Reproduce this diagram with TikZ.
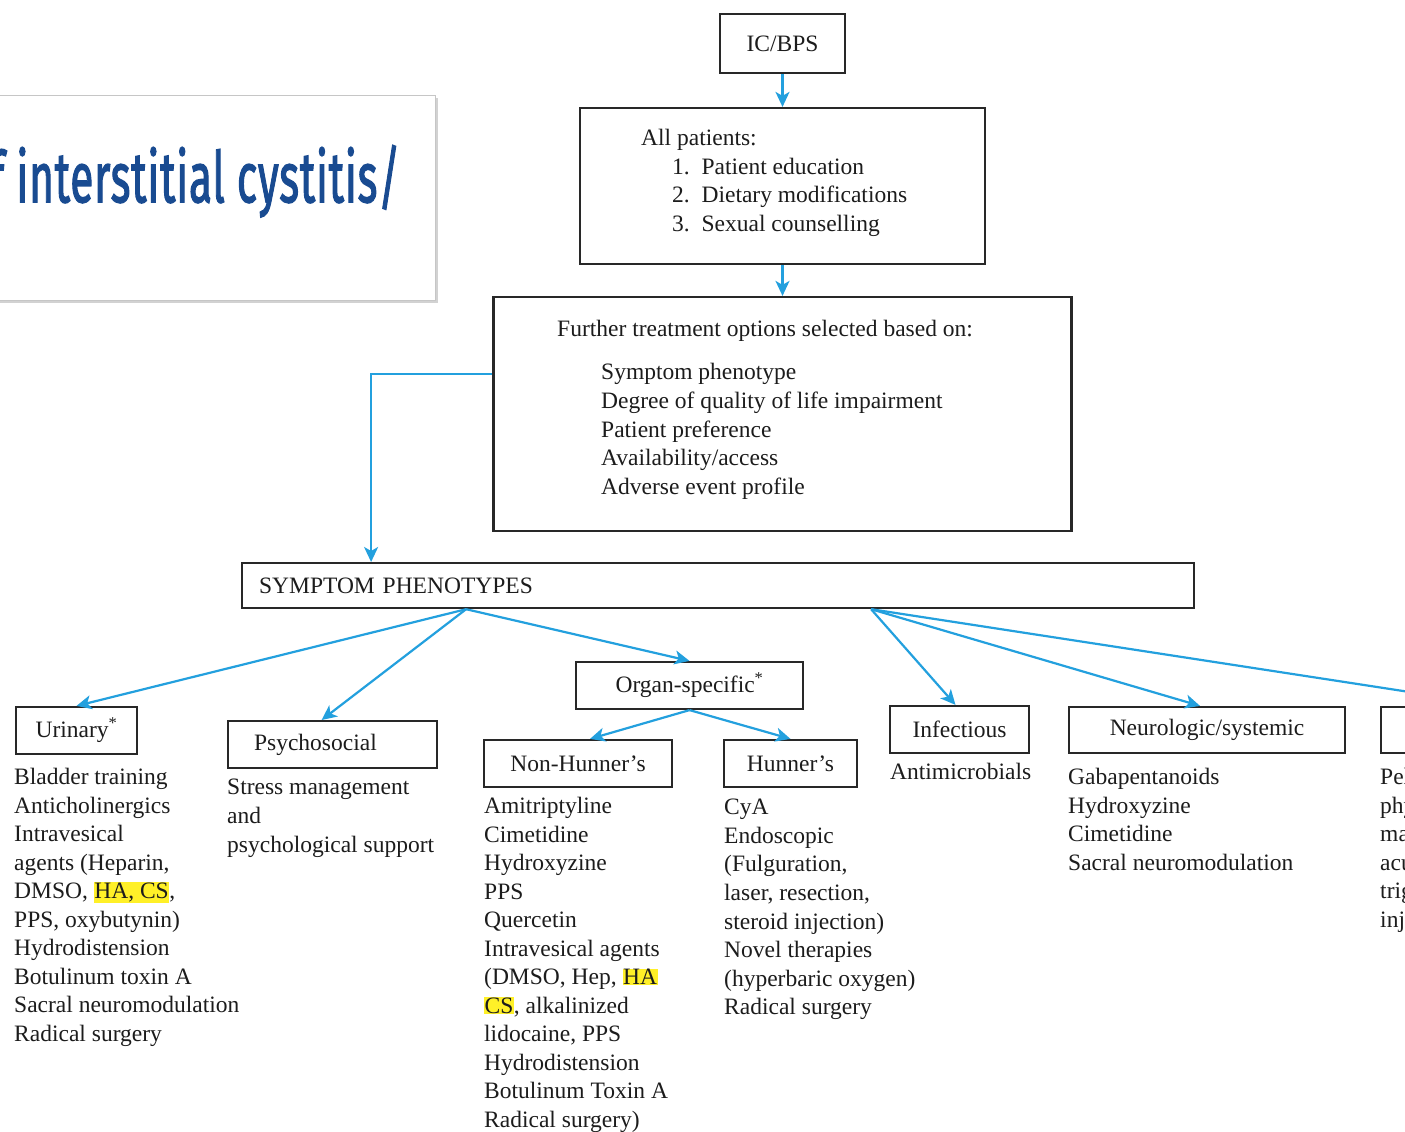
\documentclass[tikz,border=0pt]{standalone}
\usepackage{fontspec}
\setmainfont{Liberation Serif}
\newfontfamily\ttlfont[FakeBold=2.2,LetterSpace=2]{Fira Sans}
\usetikzlibrary{arrows.meta,shadows,calc}
\definecolor{txt}{RGB}{28,28,28}
\definecolor{boxc}{RGB}{40,40,40}
\definecolor{arrc}{RGB}{35,160,222}
\definecolor{ttlc}{RGB}{25,75,145}
\definecolor{hly}{RGB}{255,240,40}
\newcommand\mainfs{\fontsize{23.5}{28.5}\selectfont}
\newcommand\hlt[1]{{\setlength{\fboxsep}{0.5pt}\colorbox{hly}{#1}}}
\tikzset{
  box/.style={draw=boxc, line width=2.2pt, inner sep=0pt},
  lbl/.style={box, font=\mainfs, text=txt},
  txtn/.style={font=\mainfs, text=txt, align=left, inner sep=0pt, anchor=north west},
  arr/.style={draw=arrc, line width=2.2pt, -{Stealth[length=15pt,width=14pt,inset=4pt]}},
}
\begin{document}
\begin{tikzpicture}[x=1pt,y=-1pt]
\useasboundingbox (0,0) rectangle (1405,1132);
\fill[white] (0,0) rectangle (1405,1132);
\clip (0,0) rectangle (1405,1132);
% title box
\node[draw=gray!45, line width=1pt, fill=white, minimum width=455, minimum height=205,
  drop shadow={shadow xshift=3pt, shadow yshift=-3pt, opacity=0.35, fill=gray}] (tb) at (207.5,197.5) {};
\node[inner sep=0pt, anchor=north west, text=ttlc] (tt) at (-10,145)
  {\resizebox*{410pt}{72pt}{\ttlfont f interstitial cystitis/}};
% top chain
\node[lbl, minimum width=125, minimum height=59] (ic) at (782.5,43.5) {IC/BPS};
\node[box, minimum width=405, minimum height=156] (ap) at (782.5,186) {};
\node[txtn] (apt) at (641,129) {All patients:\\
  \hspace*{31pt}1.\enspace Patient education\\
  \hspace*{31pt}2.\enspace Dietary modifications\\
  \hspace*{31pt}3.\enspace Sexual counselling};
\node[box, minimum width=578, minimum height=234] (fu) at (782.5,414) {};
\node[txtn] (fut) at (557,320) {Further treatment options selected based on:};
\node[txtn, font=\fontsize{23.5}{28.8}\selectfont] (ful) at (601,363) {Symptom phenotype\\Degree of quality of life impairment\\Patient preference\\Availability/access\\Adverse event profile};
\draw[arr] (ic.south) -- (ap.north);
\draw[arr] (ap.south) -- (fu.north);
% symptom phenotypes
\node[lbl, minimum height=45, inner xsep=17pt, text width=918pt, align=left, anchor=north west] (sym) at (241,562) {SYMPTOM PHENOTYPES};
\draw[arr] ([yshift=40pt]fu.west) -| ([xshift=-347pt]sym.north);
\coordinate (s1) at ([xshift=-252pt]sym.south);
\coordinate (s2) at ([xshift=153pt]sym.south);
% category boxes
\node[lbl, minimum width=121, minimum height=47] (ur) at (76.5,730.5) {Urinary\textsuperscript{*}};
\node[lbl, minimum height=47, inner xsep=26pt, text width=157pt, align=left, anchor=north west] (ps) at (227,720) {Psychosocial};
\node[lbl, minimum width=227, minimum height=47] (og) at (689.5,685.5) {Organ-specific\textsuperscript{*}};
\node[lbl, minimum width=188, minimum height=47] (nh) at (578,763.5) {Non-Hunner’s};
\node[lbl, minimum width=133, minimum height=47] (hu) at (790.5,763.5) {Hunner’s};
\node[lbl, minimum width=139, minimum height=47] (inf) at (959.5,729.5) {Infectious};
\node[lbl, minimum width=276, minimum height=46] (neu) at (1207,730) {Neurologic/systemic};
\node[box, minimum width=238, minimum height=46] (myo) at (1500,730) {};
% connectors
\draw[arr] (s1) -- (ur.north);
\draw[arr] (s1) -- ([xshift=-11pt]ps.north);
\draw[arr] (s1) -- (og.north);
\draw[arr] (s2) -- ([xshift=-4pt]inf.north);
\draw[arr] (s2) -- ([xshift=-7pt]neu.north);
\draw[arr] (s2) -- (myo.north);
\draw[arr] (og.south) -- ([xshift=12pt]nh.north);
\draw[arr] (og.south) -- (hu.north);
% lists
\node[txtn] (url) at (14,768) {Bladder training\\Anticholinergics\\Intravesical\\agents (Heparin,\\DMSO, \hlt{HA, CS},\\PPS, oxybutynin)\\Hydrodistension\\Botulinum toxin A\\Sacral neuromodulation\\Radical surgery};
\node[txtn, font=\fontsize{23.5}{29}\selectfont] (psl) at (227,779) {Stress management\\and\\psychological support};
\node[txtn] (nhl) at (484,797) {Amitriptyline\\Cimetidine\\Hydroxyzine\\PPS\\Quercetin\\Intravesical agents\\(DMSO, Hep, \hlt{HA}\\\hlt{CS}, alkalinized\\lidocaine, PPS\\Hydrodistension\\Botulinum Toxin A\\Radical surgery)};
\node[txtn, font=\fontsize{23.5}{28.6}\selectfont] (hul) at (724,799) {CyA\\Endoscopic\\(Fulguration,\\laser, resection,\\steroid injection)\\Novel therapies\\(hyperbaric oxygen)\\Radical surgery};
\node[txtn] (infl) at (890,763) {Antimicrobials};
\node[txtn] (neul) at (1068,768) {Gabapentanoids\\Hydroxyzine\\Cimetidine\\Sacral neuromodulation};
\node[txtn] (myol) at (1380,768) {Pelvic floor\\physiotherapy\\manual therapy\\acupuncture\\trigger point\\injections};
\end{tikzpicture}
\end{document}
